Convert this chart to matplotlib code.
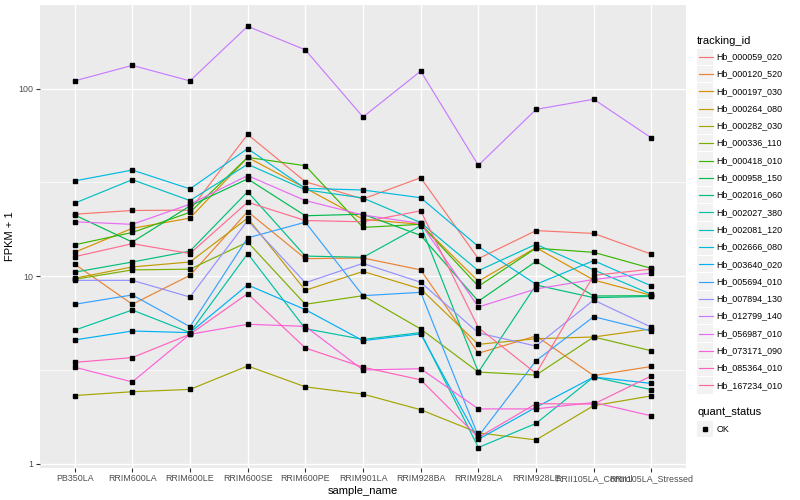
import matplotlib
matplotlib.use('Agg')
import matplotlib.pyplot as plt
from matplotlib.patches import Rectangle
from matplotlib.lines import Line2D
from matplotlib.ticker import FixedLocator, NullFormatter

plt.rcParams['font.family'] = ['Liberation Sans', 'DejaVu Sans']

samples = ['PB350LA', 'RRIM600LA', 'RRIM600LE', 'RRIM600SE', 'RRIM600PE', 'RRIM901LA',
           'RRIM928BA', 'RRIM928LA', 'RRIM928LE', 'RRII105LA_Control', 'RRII105LA_Stressed']

tracking_ids = ['Hb_000059_020', 'Hb_000120_520', 'Hb_000197_030', 'Hb_000264_080',
                'Hb_000282_030', 'Hb_000336_110', 'Hb_000418_010', 'Hb_000958_150',
                'Hb_002016_060', 'Hb_002027_380', 'Hb_002081_120', 'Hb_002666_080',
                'Hb_003640_020', 'Hb_005694_010', 'Hb_007894_130', 'Hb_012799_140',
                'Hb_056987_010', 'Hb_073171_090', 'Hb_085364_010', 'Hb_167234_010']

hb_000059_020 = [21.4, 22.4, 22.5, 57.0, 31.9, 25.8, 33.5, 12.4, 17.5, 16.9, 13.1]
hb_000120_520 = [11.6, 7.08, 10.1, 22.1, 12.4, 12.5, 10.8, 3.88, 4.80, 2.95, 3.3]
hb_000197_030 = [13.4, 18.0, 20.4, 43.0, 29.5, 20.1, 18.9, 9.39, 14.2, 9.54, 7.9]
hb_000264_080 = [9.75, 11.2, 11.9, 20.4, 8.41, 10.6, 8.55, 4.33, 4.64, 4.74, 5.23]
hb_000282_030 = [2.31, 2.42, 2.49, 3.32, 2.57, 2.35, 1.94, 1.46, 1.34, 2.04, 2.30]
hb_000336_110 = [9.62, 10.8, 10.9, 15.2, 7.08, 7.87, 5.23, 3.08, 2.97, 4.74, 4.0]
hb_000418_010 = [14.7, 17.1, 21.9, 43.0, 38.8, 18.2, 18.9, 8.83, 14.1, 13.4, 11.0]
hb_000958_150 = [21.2, 15.2, 23.7, 33.0, 21.0, 21.4, 16.5, 7.35, 12.0, 7.84, 7.87]
hb_002016_060 = [10.5, 11.9, 13.6, 28.2, 12.8, 12.6, 18.6, 3.08, 8.97, 7.68, 7.8]
hb_002027_380 = [5.15, 6.6, 5.0, 13.2, 5.25, 4.6, 5.0, 1.22, 1.64, 2.90, 2.48]
hb_002081_120 = [24.5, 32.7, 25.3, 39.5, 28.9, 26.1, 19.3, 10.7, 14.8, 10.8, 8.0]
hb_002666_080 = [32.2, 36.8, 29.2, 47.9, 29.4, 28.8, 26.2, 14.4, 9.05, 12.1, 8.87]
hb_003640_020 = [4.57, 5.1, 5.0, 8.98, 6.63, 4.53, 4.92, 1.35, 2.0, 2.90, 2.68]
hb_005694_010 = [7.08, 7.94, 5.38, 16.0, 19.4, 7.87, 8.2, 1.40, 3.54, 6.08, 5.1]
hb_007894_130 = [9.5, 9.5, 7.74, 19.8, 9.23, 11.7, 9.28, 4.98, 4.24, 7.46, 5.34]
hb_012799_140 = [110, 133, 110, 215, 161, 70.6, 124, 39.0, 77.5, 87.8, 54.6]
hb_056987_010 = [19.5, 18.9, 24.2, 34.4, 25.3, 21.2, 19.1, 6.85, 8.55, 9.6, 10.4]
hb_073171_090 = [3.27, 2.73, 4.9, 5.54, 5.40, 3.16, 3.21, 1.96, 1.96, 2.12, 1.80]
hb_085364_010 = [3.47, 3.68, 4.9, 8.07, 4.14, 3.27, 2.80, 1.38, 2.09, 2.08, 2.94]
hb_167234_010 = [12.7, 14.9, 13.2, 24.8, 19.8, 19.5, 22.3, 5.31, 3.03, 10.1, 10.9]

series = [hb_000059_020, hb_000120_520, hb_000197_030, hb_000264_080, hb_000282_030,
          hb_000336_110, hb_000418_010, hb_000958_150, hb_002016_060, hb_002027_380,
          hb_002081_120, hb_002666_080, hb_003640_020, hb_005694_010, hb_007894_130,
          hb_012799_140, hb_056987_010, hb_073171_090, hb_085364_010, hb_167234_010]

colors = ["#F8766D", "#EA8331", "#D89000", "#C09B00", "#A3A500", "#7CAE00", "#39B600",
          "#00BB4E", "#00BF7D", "#00C1A3", "#00BFC4", "#00BAE0", "#00B0F6", "#35A2FF",
          "#9590FF", "#C77CFF", "#E76BF3", "#FA62DB", "#FF62BC", "#FF6C91"]

W, H = 800, 500
fig = plt.figure(figsize=(W / 100, H / 100), dpi=100)
fig.patch.set_facecolor('white')

def fx(px):
    return px / W

def fy(py):
    return 1 - py / H

ax = fig.add_axes([fx(40), fy(468), (686 - 40) / W, (468 - 5) / H])
ax.set_facecolor('#EBEBEB')

xs = list(range(len(samples)))
for vals, c in zip(series, colors):
    ax.plot(xs, vals, color=c, lw=0.85, zorder=2, solid_capstyle='butt')
for vals in series:
    ax.plot(xs, vals, linestyle='none', marker='s', ms=3.0, color='black', zorder=3)

ax.set_yscale('log')
ax.set_ylim(10 ** -0.0229, 10 ** 2.446)
ax.set_xlim(-0.6, len(samples) - 1 + 0.6)
ax.set_yticks([1, 10, 100])
ax.set_yticklabels(['1', '10', '100'])
ax.yaxis.set_minor_locator(FixedLocator([10 ** 0.5, 10 ** 1.5]))
ax.yaxis.set_minor_formatter(NullFormatter())
ax.set_xticks(xs)
ax.set_xticklabels(samples)

ax.grid(True, which='major', color='white', lw=1.0, zorder=0)
ax.grid(True, which='minor', axis='y', color='white', lw=0.5, zorder=0)
ax.set_axisbelow(True)
for s in ax.spines.values():
    s.set_visible(False)
ax.tick_params(which='major', length=3, width=0.8, color='#333333',
               labelsize=6.4, labelcolor='#4D4D4D', pad=1.5)
ax.tick_params(which='minor', length=0)

ax.set_xlabel('sample_name', fontsize=8, color='black', labelpad=2)
ax.set_ylabel('FPKM + 1', fontsize=8, color='black', labelpad=3)

# legend: tracking_id
fig.text(fx(697), fy(40.5), 'tracking_id', fontsize=8, va='center', ha='left')
key = 17.3
y0 = 56.7
for i, (name, c) in enumerate(zip(tracking_ids, colors)):
    yc = y0 + i * key
    fig.patches.append(Rectangle((fx(697), fy(yc + key / 2 - 0.5)), (key - 1) / W, (key - 1) / H,
                                 transform=fig.transFigure, facecolor='#F2F2F2',
                                 edgecolor='none'))
    fig.lines.append(Line2D([fx(698.5), fx(712.5)], [fy(yc), fy(yc)], transform=fig.transFigure,
                            color=c, lw=0.85))
    fig.text(fx(716.5), fy(yc), name, fontsize=6.4, va='center', ha='left')

# legend: quant_status
fig.text(fx(697), fy(412), 'quant_status', fontsize=8, va='center', ha='left')
yc = 429.3
fig.patches.append(Rectangle((fx(697), fy(yc + key / 2 - 0.5)), (key - 1) / W, (key - 1) / H,
                             transform=fig.transFigure, facecolor='#F2F2F2', edgecolor='none'))
fig.lines.append(Line2D([fx(705.3)], [fy(yc)], transform=fig.transFigure, linestyle='none',
                        marker='s', ms=3.0, color='black'))
fig.text(fx(716.5), fy(yc), 'OK', fontsize=6.4, va='center', ha='left')

fig.savefig('out.png', dpi=100)
